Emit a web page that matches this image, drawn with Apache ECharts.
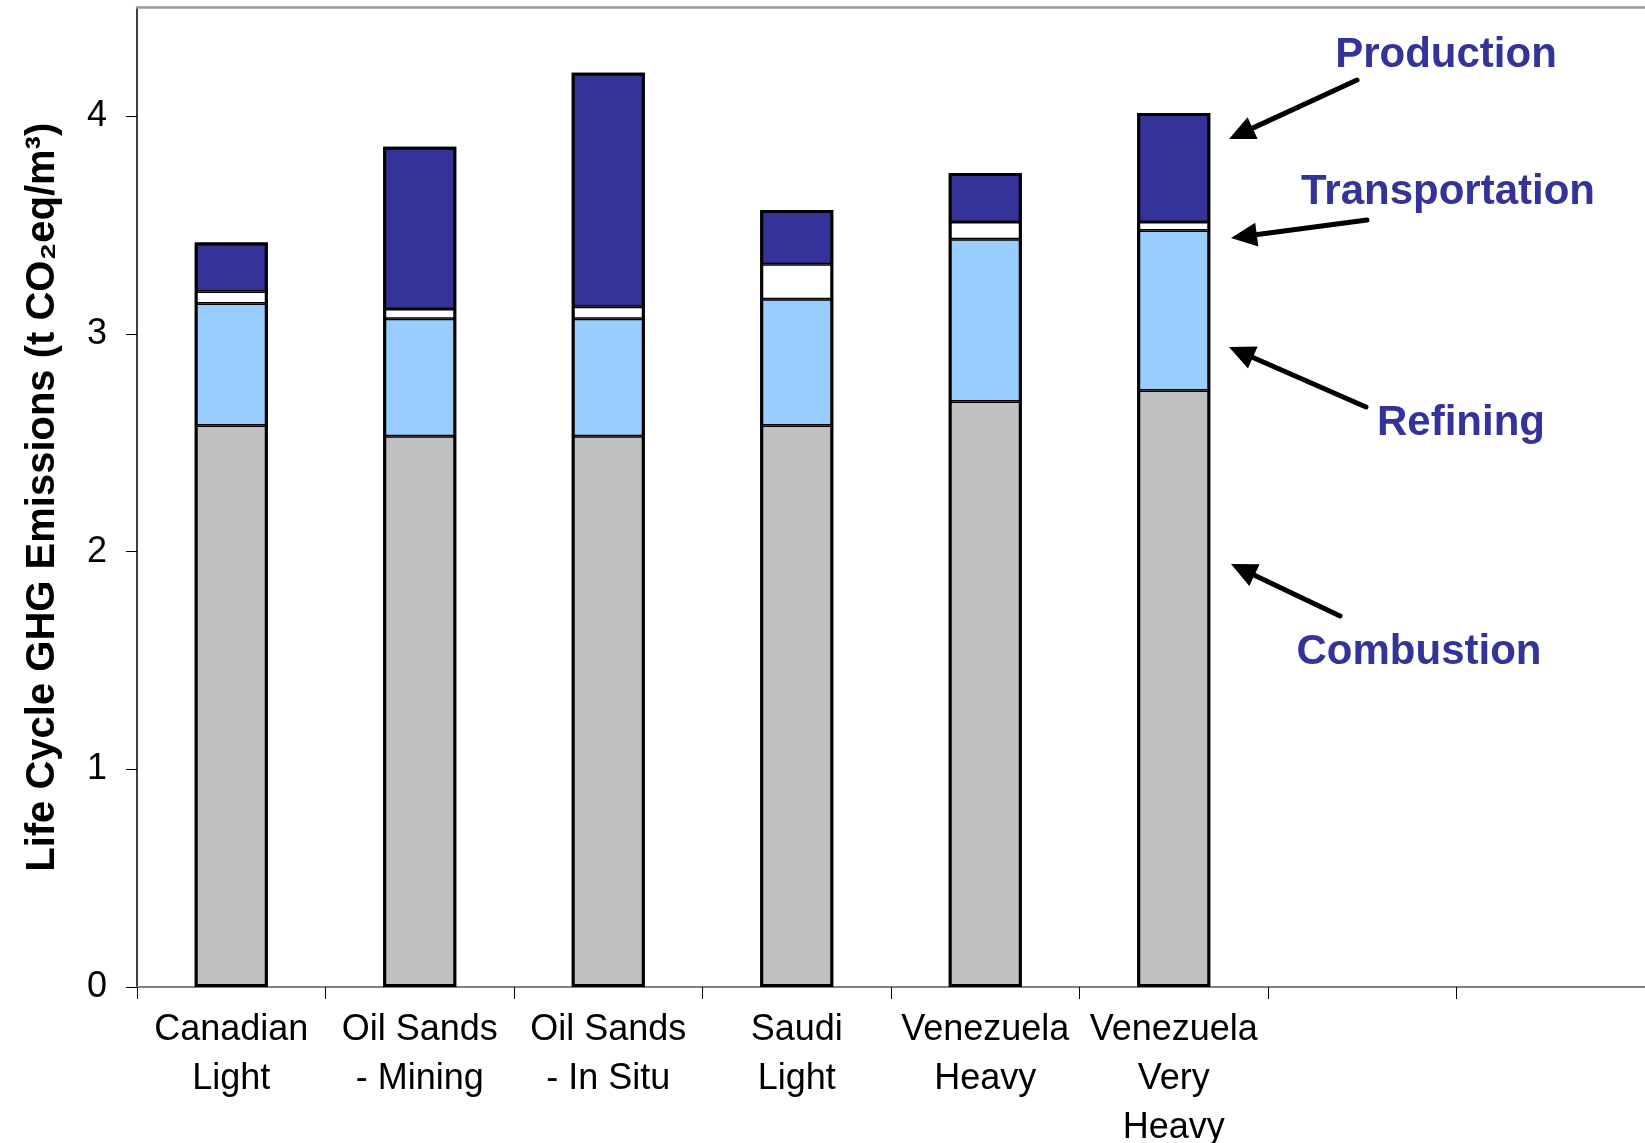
<!DOCTYPE html>
<html>
<head>
<meta charset="utf-8">
<script src="https://cdn.jsdelivr.net/npm/echarts@6/dist/echarts.min.js"></script>
<style>
  html, body { margin: 0; padding: 0; background: #fff; }
  #chart { width: 1645px; height: 1143px; }
</style>
</head>
<body>
<div id="chart"></div>
<script>
// Crude types along the x axis (two trailing empty slots keep room for the stage labels)
const categories = ['Canadian\nLight', 'Oil Sands\n- Mining', 'Oil Sands\n- In Situ', 'Saudi\nLight',
  'Venezuela\nHeavy', 'Venezuela\nVery\nHeavy', '', ' '];

// Life cycle stage emissions, t CO2eq per m3
const combustion     = [2.58, 2.53, 2.53, 2.58, 2.69, 2.74];
const refining       = [0.56, 0.54, 0.54, 0.58, 0.745, 0.735];
const transportation = [0.055, 0.045, 0.055, 0.16, 0.08, 0.04];
const production     = [0.225, 0.745, 1.075, 0.25, 0.225, 0.50];

const yTicks = [0, 1, 2, 3, 4];

// Whole-bar totals, used only for the heavy outline around each stack
const totals = combustion.map((v, i) => v + refining[i] + transportation[i] + production[i]);

const FONT = '"Liberation Sans", Arial, Helvetica, sans-serif';
const STAGE_COLOR = '#333399';
const BAR_WIDTH = 73;

// Stage labels and the arrows pointing at their segments
const stageNotes = [
  { text: 'Production',     pos: [1446, 55],  from: [1357, 80],  tip: [1229, 139] },
  { text: 'Transportation', pos: [1448, 192], from: [1367, 220], tip: [1231, 238] },
  { text: 'Refining',       pos: [1461, 423], from: [1366, 407], tip: [1229, 347] },
  { text: 'Combustion',     pos: [1419, 652], from: [1340, 616], tip: [1231, 564] }
];

function arrow(from, tip) {
  const dx = tip[0] - from[0], dy = tip[1] - from[1];
  const len = Math.hypot(dx, dy);
  const ux = dx / len, uy = dy / len;
  const headLen = 26, headHalf = 12;
  const bx = tip[0] - ux * headLen, by = tip[1] - uy * headLen;
  const px = -uy, py = ux;
  return [
    {
      type: 'line',
      shape: { x1: from[0], y1: from[1], x2: bx + ux * 3, y2: by + uy * 3 },
      style: { stroke: '#000', lineWidth: 5, lineCap: 'round' }
    },
    {
      type: 'polygon',
      shape: { points: [tip, [bx + px * headHalf, by + py * headHalf], [bx - px * headHalf, by - py * headHalf]] },
      style: { fill: '#000' }
    }
  ];
}

const graphics = [];
stageNotes.forEach(n => {
  graphics.push({
    type: 'text',
    x: n.pos[0], y: n.pos[1],
    style: {
      text: n.text, fill: STAGE_COLOR,
      font: 'bold 42px ' + FONT,
      textAlign: 'center', textVerticalAlign: 'middle'
    }
  });
  graphics.push(...arrow(n.from, n.tip));
});

const segment = (name, data, color) => ({
  name: name, type: 'bar', stack: 'total', barWidth: BAR_WIDTH, data: data,
  itemStyle: { color: color, borderColor: '#000', borderWidth: 1.5 }
});

const chart = echarts.init(document.getElementById('chart'), null, { renderer: 'canvas' });
chart.setOption({
  animation: false,
  backgroundColor: '#fff',
  textStyle: { fontFamily: FONT },
  grid: { left: 137, right: 0, top: 7.5, bottom: 156, containLabel: false, outerBoundsMode: 'none' },
  xAxis: [
    {
      type: 'category',
      data: categories,
      boundaryGap: true,
      axisLine: { show: true, lineStyle: { color: '#808080', width: 2 } },
      axisTick: { show: true, length: 12, interval: 0, lineStyle: { color: '#000', width: 1 } },
      axisLabel: { interval: 0, color: '#000', fontSize: 36, lineHeight: 49, margin: 19, fontFamily: FONT }
    },
    {
      type: 'category',
      data: categories,
      position: 'top',
      axisLine: { show: true, lineStyle: { color: '#999', width: 2.5 } },
      axisTick: { show: false },
      axisLabel: { show: false }
    }
  ],
  yAxis: {
    type: 'value',
    min: 0, max: 4.5, interval: 1,
    name: 'Life Cycle GHG Emissions (t CO\u2082eq/m\u00B3)',
    nameLocation: 'middle',
    nameGap: 74,
    nameTextStyle: { color: '#000', fontSize: 40, fontWeight: 'bold', fontFamily: FONT },
    axisLine: { show: true, lineStyle: { color: '#000', width: 1.5 } },
    axisTick: { show: true, length: 11, customValues: yTicks, lineStyle: { color: '#000', width: 1 } },
    axisLabel: { customValues: yTicks, color: '#000', fontSize: 36, margin: 30, fontFamily: FONT },
    splitLine: { show: false }
  },
  series: [
    segment('Combustion', combustion, '#C0C0C0'),
    segment('Refining', refining, '#99CCFF'),
    segment('Transportation', transportation, '#FFFFFF'),
    segment('Production', production, '#333399'),
    {
      name: 'Outline', type: 'bar', barWidth: BAR_WIDTH, barGap: '-100%', data: totals,
      silent: true, z: 5,
      itemStyle: { color: 'rgba(0,0,0,0)', borderColor: '#000', borderWidth: 3 }
    }
  ],
  graphic: graphics
});
</script>
</body>
</html>
